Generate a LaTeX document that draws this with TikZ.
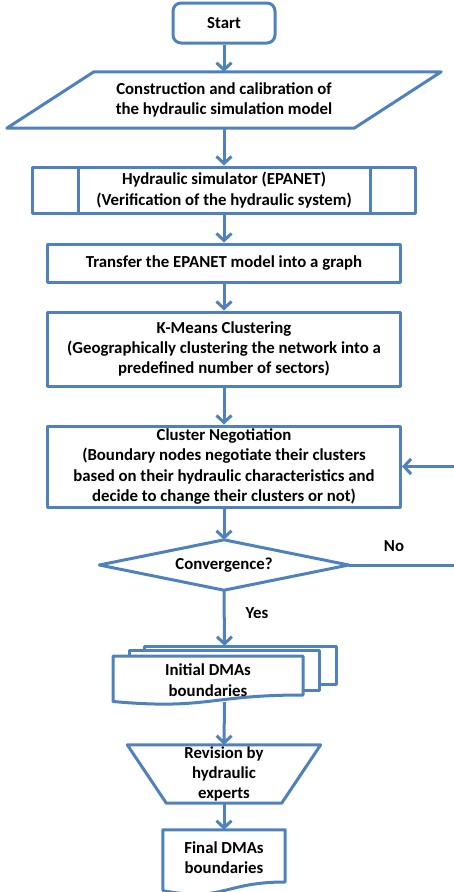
\documentclass[tikz,border=0pt]{standalone}
\usepackage{fontspec}
\setmainfont{Carlito}
\usetikzlibrary{arrows.meta}
\definecolor{flowblue}{RGB}{79,129,189}

\begin{document}
\begin{tikzpicture}[x=1pt,y=-1pt]
          % Define styles
          \tikzstyle{line} = [draw=flowblue, line width=3pt, line join=round]
          \tikzstyle{flow} = [line, -{Straight Barb[length=7pt,width=15pt]}]
          \tikzstyle{txt} = [font=\bfseries\fontsize{16.8}{20.3}\selectfont, align=center, inner sep=0pt]
          \tikzstyle{procbox} = [txt, line, minimum width=353pt]
          \tikzstyle{frame} = [txt, minimum width=0pt]

          \useasboundingbox (0,0) rectangle (454,892);

          % Start
          \node[txt, line, rounded corners=8pt, minimum width=102pt, minimum height=40pt] (start) at (224,23) {Start};

          % Model (parallelogram)
          \node[frame, minimum width=434pt, minimum height=56pt] (model) at (224,100)
               {Construction and calibration of\\the hydraulic simulation model};
          \draw[line] ([xshift=87pt]model.north west) -- (model.north east)
               -- ([xshift=-87pt]model.south east) -- (model.south west) -- cycle;

          % Simulator (predefined process)
          \node[procbox, minimum width=383pt, minimum height=46pt] (sim) at (224,190)
               {Hydraulic simulator (EPANET)\\(Verification of the hydraulic system)};
          \draw[line] ([xshift=47pt]sim.north west) -- ([xshift=47pt]sim.south west);
          \draw[line] ([xshift=-47pt]sim.north east) -- ([xshift=-47pt]sim.south east);

          % Process boxes
          \node[procbox, minimum height=38pt] (graph) at (224,263) {Transfer the EPANET model into a graph};
          \node[procbox, minimum height=74pt] (kmeans) at (224,349)
               {K-Means Clustering\\(Geographically clustering the network into a\\predefined number of sectors)};
          \node[procbox, minimum height=81pt] (negot) at (224,466.5)
               {Cluster Negotiation\\(Boundary nodes negotiate their clusters\\based on their hydraulic characteristics and\\decide to change their clusters or not)};

          % Decision
          \node[frame, minimum width=249pt, minimum height=50pt] (conv) at (224,565) {Convergence?};
          \draw[line] (conv.west) -- (conv.north) -- (conv.east) -- (conv.south) -- cycle;
          \coordinate (loop) at (464,565);
          \node[txt] (no) at (394,546) {No};
          \node[txt] (yes) at (257,613) {Yes};

          % Initial DMAs (multi document)
          \node[frame, minimum width=223pt, minimum height=56pt] (init) at (224.5,674) {};
          \draw[line, fill=white] (144,646) rectangle (336,684);
          \draw[line, fill=white] (129,650) rectangle (319,690);
          \draw[line, fill=white] (113,656) -- (303,656) -- (303,695)
               .. controls (208,695) and (208,710) .. (113,701.5) -- cycle;
          \node[txt] (inittext) at (208,680) {Initial DMAs\\boundaries};

          % Revision (trapezium)
          \node[frame, minimum width=193pt, minimum height=58pt] (revis) at (224,774)
               {Revision by\\hydraulic\\experts};
          \draw[line] (revis.north west) -- (revis.north east)
               -- ([xshift=-39pt]revis.south east) -- ([xshift=39pt]revis.south west) -- cycle;

          % Final DMAs (document)
          \node[frame, minimum width=122pt, minimum height=56pt] (final) at (224,858) {Final DMAs\\boundaries};
          \draw[line] (final.north west) -- (final.north east) -- (285,882)
               .. controls (224,882) and (224,902) .. (163,890.7) -- cycle;

          % Arrows
          \draw[flow] (start) -- (model);
          \draw[flow] (model) -- (sim);
          \draw[flow] (sim) -- (graph);
          \draw[flow] (graph) -- (kmeans);
          \draw[flow] (kmeans) -- (negot);
          \draw[flow] (negot) -- (conv);
          \draw[flow] (conv.south) -- (init.north);
          \draw[flow] (init.south) -- (revis.north);
          \draw[flow] (revis) -- (final);
          \draw[flow] (conv.east) -- (loop) |- (negot.east);

     \end{tikzpicture}
\end{document}
